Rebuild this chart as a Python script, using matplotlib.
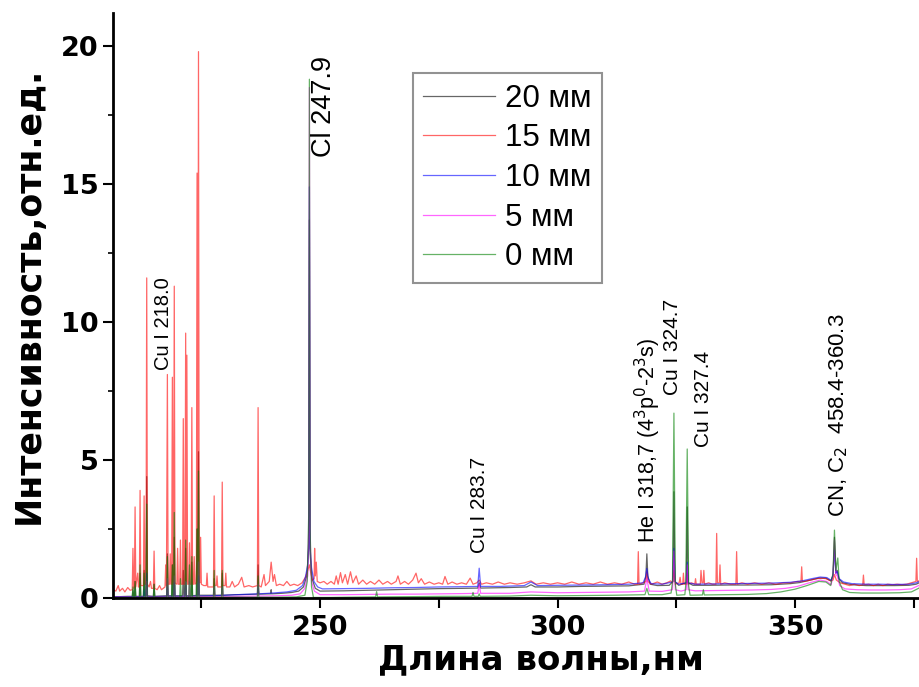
import matplotlib
matplotlib.use("Agg")
import matplotlib.pyplot as plt
from matplotlib.ticker import FixedLocator

# spectra: (wavelength nm, intensity)
red = [(206.5,0.30),(207.0,0.25),(207.5,0.45),(207.8,0.25),(208.4,0.35),(208.9,0.22),(209.5,0.38),(210.0,0.28),
       (210.45,0.3),(210.6,1.8),(210.75,0.35),(210.9,0.4),(211.05,3.3),(211.2,0.4),
       (211.6,0.9),(211.75,0.4),(211.95,0.4),(212.1,3.9),(212.25,0.45),(212.8,0.45),(212.95,3.7),(213.1,0.5),
       (213.35,0.5),(213.5,11.6),(213.65,0.5),(214.0,0.4),(214.3,0.6),(214.5,0.35),
       (214.9,0.35),(215.05,1.7),(215.2,0.35),(215.7,0.3),(216.2,0.45),(216.6,0.3),
       (217.35,0.4),(217.5,1.2),(217.65,0.45),(217.85,8.1),(218.0,0.5),(218.3,0.5),(218.45,1.6),(218.6,0.5),
       (218.75,0.5),(218.9,8.0),(219.05,0.5),(219.15,0.5),(219.3,11.3),(219.45,0.55),
       (219.85,0.5),(220.0,1.8),(220.15,0.5),(220.45,0.5),(220.6,2.1),(220.75,0.5),
       (221.05,0.5),(221.2,6.5),(221.35,0.5),(221.55,0.5),(221.7,9.6),(221.82,0.6),(221.95,8.8),(222.1,0.5),
       (222.35,0.5),(222.5,2.0),(222.65,0.5),(222.85,0.5),(223.0,6.9),(223.15,0.5),
       (223.35,0.5),(223.5,1.5),(223.65,0.5),(223.95,0.55),(224.1,15.4),(224.25,0.6),(224.4,19.8),(224.55,0.6),
       (224.7,0.55),(224.85,2.2),(225.0,0.5),(225.5,0.45),(226.05,0.45),(226.2,0.9),(226.35,0.4),
       (227.55,0.4),(227.7,3.7),(227.85,0.45),(228.15,0.45),(228.3,0.8),(228.45,0.4),
       (229.25,0.4),(229.4,4.2),(229.55,0.45),(230.0,0.45),(230.15,0.9),(230.3,0.4),
       (231.0,0.4),(231.5,0.6),(232.0,0.4),(232.8,0.5),(233.5,0.75),(234.0,0.4),(235.0,0.45),(235.8,0.4),
       (236.8,0.45),(236.95,6.9),(237.1,0.45),(237.6,0.4),(238.2,0.85),(238.5,0.45),
       (239.3,0.6),(239.7,1.3),(240.1,0.6),(240.4,0.85),(240.8,0.45),(241.5,0.5),(242.3,0.45),(243.0,0.6),
       (243.7,0.45),(244.5,0.5),(245.3,0.45),(246.2,0.55),(246.9,0.75),(247.4,1.0),(247.75,1.2),(248.1,0.85),
       (248.4,0.65),(248.75,0.7),(248.85,1.8),(249.0,0.8),(249.2,1.3),(249.4,0.6),
       (250.0,0.55),(250.8,0.6),(251.5,0.5),(252.3,0.6),(253.0,0.5),(253.4,0.8),(253.8,0.5),(254.3,0.92),
       (254.7,0.55),(255.3,0.85),(255.8,0.5),(256.4,0.95),(256.9,0.55),(257.6,0.8),(258.1,0.5),(259.0,0.65),
       (259.8,0.5),(260.6,0.6),(261.5,0.5),(262.4,0.65),(263.2,0.5),(264.2,0.6),(265.0,0.5),(266.0,0.6),
       (266.4,0.8),(266.9,0.5),(267.8,0.6),(268.6,0.5),(269.5,0.65),(270.2,0.9),(270.7,0.55),(271.3,0.7),
       (272.0,0.5),(273.0,0.58),(274.0,0.5),(275.0,0.55),(275.8,0.5),(276.3,0.78),(276.9,0.5),(277.8,0.58),
       (278.8,0.5),(279.8,0.55),(280.8,0.5),(281.6,0.72),(282.2,0.5),(283.0,0.55),(283.5,0.65),(284.0,0.5),
       (285.0,0.55),(286.3,0.5),(287.5,0.58),(288.8,0.5),(290.0,0.55),(291.5,0.5),(293.0,0.55),(294.4,0.62),
       (295.5,0.5),(297.0,0.55),(298.5,0.5),(300.0,0.55),(301.5,0.5),(303.0,0.58),(304.5,0.5),(306.0,0.55),
       (307.5,0.5),(309.0,0.58),(310.5,0.5),(312.0,0.55),(313.5,0.5),(315.0,0.58),(316.2,0.5),
       (316.85,0.5),(317.0,1.68),(317.15,0.5),(318.0,0.55),(318.6,0.6),(318.8,0.95),(319.0,0.6),(319.8,0.5),
       (321.0,0.58),(322.0,0.5),(323.0,0.55),(323.8,0.62),(324.2,0.55),(324.5,1.0),(324.8,0.5),(325.6,0.55),
       (325.8,0.75),(326.0,0.5),(326.35,0.5),(326.5,0.9),(326.65,0.5),(327.15,0.5),(327.3,0.9),(327.45,0.5),
       (328.2,0.55),(328.9,0.5),(329.05,0.7),(329.2,0.5),(330.05,0.5),(330.2,1.0),(330.4,0.55),(330.65,0.55),
       (330.8,1.0),(330.95,0.5),(331.8,0.55),(332.6,0.5),(333.35,0.5),(333.5,2.34),(333.65,0.55),(334.05,0.55),
       (334.2,1.2),(334.35,0.5),(335.2,0.55),(336.5,0.5),(337.55,0.5),(337.7,1.68),(337.85,0.5),(338.8,0.55),
       (340.0,0.5),(341.5,0.55),(343.0,0.5),(344.5,0.55),(346.0,0.5),(347.5,0.55),(349.0,0.55),(350.5,0.6),
       (351.25,0.6),(351.4,1.13),(351.55,0.6),(352.5,0.62),(353.5,0.66),(354.5,0.7),(355.5,0.72),(356.5,0.7),
       (357.5,0.62),(358.0,0.65),(358.3,0.85),(358.7,0.65),(359.5,0.55),(360.5,0.5),(361.5,0.45),(362.5,0.5),
       (363.5,0.45),(364.25,0.48),(364.4,0.83),(364.55,0.48),(365.5,0.5),(366.5,0.45),(367.5,0.5),(368.5,0.45),
       (369.5,0.5),(370.5,0.48),(371.5,0.5),(372.5,0.48),(373.5,0.5),(374.5,0.55),
       (375.45,0.6),(375.6,1.44),(375.75,0.6),(376.5,0.65),(377.5,0.7)]

black = [(206.5,0.05),(208.0,0.05),(209.5,0.06),(210.45,0.06),(210.6,0.3),(210.75,0.06),(210.9,0.06),(211.05,0.6),(211.2,0.06),
         (211.95,0.06),(212.1,0.9),(212.25,0.06),(212.8,0.06),(212.95,1.0),(213.1,0.06),(213.35,0.08),(213.5,4.4),(213.65,0.08),
         (214.9,0.06),(215.05,0.5),(215.2,0.06),(217.7,0.08),(217.85,1.6),(218.0,0.08),(218.75,0.08),(218.9,1.2),(219.05,0.08),
         (219.15,0.08),(219.3,2.2),(219.45,0.08),(221.05,0.08),(221.2,1.0),(221.35,0.08),(221.55,0.08),(221.7,1.8),(221.85,0.08),
         (222.85,0.08),(223.0,1.3),(223.15,0.08),(223.95,0.1),(224.1,2.5),(224.25,0.1),(224.4,5.3),(224.55,0.1),(226.0,0.1),
         (227.55,0.1),(227.7,0.7),(227.85,0.1),(229.25,0.1),(229.4,0.9),(229.55,0.1),(232.0,0.12),(235.0,0.13),(236.8,0.14),
         (236.95,1.2),(237.1,0.14),(239.6,0.15),(239.7,0.3),(239.8,0.15),(242.0,0.17),(244.0,0.2),(245.5,0.25),
         (246.5,0.4),(247.2,0.8),(247.6,1.8),(247.75,13.7),(247.9,1.6),(248.3,0.7),(249.0,0.35),(250.0,0.25),(255.0,0.26),
         (260.0,0.28),(265.0,0.3),(270.0,0.32),(275.0,0.34),(280.0,0.35),(283.2,0.36),(283.5,0.55),(283.8,0.36),
         (290.0,0.38),(293.5,0.4),(294.4,0.48),(295.3,0.4),(300.0,0.4),(305.0,0.42),(310.0,0.43),(315.0,0.44),(318.2,0.5),
         (318.6,0.8),(318.8,1.6),(319.0,0.8),(319.5,0.5),(321.0,0.45),(323.5,0.46),(324.3,0.6),(324.5,3.85),(324.7,0.6),
         (325.5,0.46),(327.1,0.55),(327.3,3.3),(327.5,0.55),(328.5,0.46),(332.0,0.46),(336.0,0.47),(340.0,0.47),(345.0,0.48),
         (349.0,0.52),(351.0,0.56),(353.0,0.64),(355.0,0.72),(356.5,0.72),(357.5,0.62),(358.0,0.8),(358.3,2.2),(358.6,0.9),
         (358.9,1.0),(359.2,0.7),(360.0,0.55),(362.0,0.48),(365.0,0.45),(368.0,0.45),(371.0,0.45),(374.0,0.46),(375.5,0.5),
         (376.5,0.58),(377.5,0.65)]

blue = [(206.5,0.04),(210.0,0.04),(212.8,0.05),(212.95,0.3),(213.1,0.05),(213.35,0.05),(213.5,0.9),(213.65,0.05),
        (217.7,0.06),(217.85,0.4),(218.0,0.06),(219.15,0.06),(219.3,0.55),(219.45,0.06),(221.55,0.06),(221.7,0.45),(221.85,0.06),
        (224.25,0.07),(224.4,0.8),(224.55,0.07),(227.0,0.08),(230.0,0.1),(234.0,0.13),(236.8,0.15),(236.95,0.35),(237.1,0.15),
        (240.0,0.18),(243.0,0.22),(245.0,0.28),(246.3,0.45),(246.9,0.75),(247.4,1.2),(247.6,2.0),(247.75,14.9),(247.9,1.8),
        (248.2,1.1),(248.7,0.6),(249.5,0.4),(250.5,0.33),(255.0,0.34),(260.0,0.35),(265.0,0.37),(270.0,0.38),(275.0,0.4),
        (280.0,0.41),(283.2,0.42),(283.5,1.08),(283.8,0.42),(288.0,0.42),(293.0,0.45),(294.4,0.58),(295.8,0.45),(300.0,0.46),
        (305.0,0.47),(310.0,0.48),(315.0,0.5),(318.0,0.55),(318.5,0.75),(318.8,1.07),(319.1,0.7),(319.7,0.52),(322.0,0.5),
        (324.2,0.58),(324.5,1.8),(324.8,0.58),(325.5,0.5),(327.1,0.55),(327.3,1.3),(327.5,0.55),(329.0,0.5),(333.0,0.51),
        (337.0,0.52),(341.0,0.53),(345.0,0.54),(349.0,0.57),(351.5,0.62),(353.5,0.7),(355.3,0.76),(356.7,0.74),(357.6,0.64),
        (358.0,0.85),(358.3,1.74),(358.6,0.9),(358.9,0.95),(359.3,0.7),(360.2,0.58),(362.0,0.52),(365.0,0.5),(368.0,0.5),
        (371.0,0.49),(374.0,0.5),(375.5,0.55),(376.5,0.62),(377.5,0.68)]

pink = [(206.5,0.03),(210.0,0.03),(213.35,0.04),(213.5,0.6),(213.65,0.04),(217.7,0.04),(217.85,0.7),(218.0,0.04),
        (219.15,0.04),(219.3,0.8),(219.45,0.04),(221.55,0.05),(221.7,0.6),(221.85,0.05),(222.35,0.05),(222.5,0.6),(222.65,0.05),
        (224.25,0.05),(224.4,1.3),(224.55,0.05),(227.55,0.05),(227.7,0.4),(227.85,0.05),(229.25,0.05),(229.4,0.4),(229.55,0.05),
        (233.0,0.06),(236.8,0.07),(236.95,0.5),(237.1,0.07),(241.0,0.08),(244.0,0.1),(245.8,0.15),(246.8,0.35),(247.4,0.8),
        (247.6,2.5),(247.75,18.5),(247.9,2.2),(248.2,0.6),(248.8,0.25),(250.0,0.12),(255.0,0.12),(260.0,0.13),(265.0,0.14),
        (270.0,0.14),(275.0,0.15),(280.0,0.16),(283.2,0.17),(283.5,0.5),(283.8,0.17),(290.0,0.17),(294.4,0.22),(300.0,0.19),
        (305.0,0.2),(310.0,0.21),(315.0,0.22),(318.3,0.25),(318.8,0.7),(319.3,0.25),(322.0,0.24),(324.2,0.3),(324.5,1.7),
        (324.8,0.3),(326.0,0.25),(327.1,0.3),(327.3,1.2),(327.5,0.3),(329.0,0.26),(333.0,0.27),(337.0,0.28),(341.0,0.29),
        (345.0,0.31),(348.0,0.35),(350.5,0.42),(353.0,0.55),(355.3,0.65),(356.7,0.6),(357.6,0.48),(358.0,0.8),(358.3,2.1),
        (358.6,0.85),(358.9,0.8),(359.4,0.45),(360.5,0.33),(363.0,0.3),(366.0,0.29),(369.0,0.29),(372.0,0.3),(374.5,0.33),
        (376.0,0.45),(377.5,0.55)]

green = [(206.5,0.02),(209.0,0.02),(210.45,0.02),(210.6,0.4),(210.75,0.02),(210.9,0.02),(211.05,0.6),(211.2,0.02),
         (211.95,0.02),(212.1,1.2),(212.25,0.02),(212.8,0.02),(212.95,0.9),(213.1,0.02),(213.35,0.03),(213.5,3.4),(213.65,0.03),
         (214.9,0.03),(215.05,0.5),(215.2,0.03),(217.7,0.03),(217.85,1.5),(218.0,0.03),(218.75,0.03),(218.9,1.2),(219.05,0.03),
         (219.15,0.03),(219.3,3.1),(219.45,0.03),(220.45,0.03),(220.6,0.7),(220.75,0.03),(221.55,0.03),(221.7,2.1),(221.85,0.03),
         (222.35,0.03),(222.5,1.2),(222.65,0.03),(222.85,0.03),(223.0,1.5),(223.15,0.03),(223.95,0.03),(224.1,2.5),(224.25,0.03),
         (224.4,4.6),(224.55,0.03),(227.55,0.03),(227.7,1.0),(227.85,0.03),(229.25,0.03),(229.4,1.0),(229.55,0.03),(236.8,0.03),
         (236.95,0.8),(237.1,0.03),(241.0,0.03),(245.0,0.04),(246.8,0.1),(247.3,0.6),(247.6,3.0),(247.75,18.8),(247.9,2.5),
         (248.2,0.4),(248.6,0.02),(252.0,0.02),(256.0,0.03),(261.7,0.04),(261.9,0.23),(262.1,0.04),(270.0,0.05),(276.0,0.06),
         (282.0,0.06),(282.2,0.2),(282.4,0.06),(283.3,0.06),(283.5,0.15),(283.7,0.06),(290.0,0.07),(294.4,0.1),(300.0,0.08),
         (306.0,0.09),(312.0,0.1),(318.4,0.12),(318.8,0.35),(319.2,0.12),(322.0,0.12),(323.9,0.18),(324.2,0.6),(324.5,6.7),
         (324.8,0.5),(325.1,0.1),(326.8,0.12),(327.0,0.5),(327.3,5.4),(327.6,0.45),(327.9,0.1),(330.5,0.11),(330.7,0.3),
         (330.9,0.11),(335.0,0.12),(340.0,0.13),(344.0,0.16),(347.0,0.22),(350.0,0.32),(352.5,0.45),(355.0,0.6),(356.5,0.58),
         (357.5,0.45),(358.0,0.9),(358.3,2.46),(358.6,1.0),(359.0,1.45),(359.3,0.6),(360.0,0.3),(361.5,0.2),(364.0,0.18),
         (368.0,0.18),(372.0,0.19),(374.5,0.22),(376.0,0.35),(377.5,0.5)]

series = [black, red, blue, pink, green]
labels = ["20 мм", "15 мм", "10 мм", "5 мм", "0 мм"]
colors = ["k", "r", "b", "magenta", "green"]

# line annotations: text, wavelength, intensity at text foot, size
ann_text = ["Cu I 218.0", "Cl 247.9", "Cu I 283.7", "He I 318,7 (4$^3$p$^0$-2$^3$s)",
            "Cu I 324.7", "Cu I 327.4", "CN, C$_2$  458.4-360.3"]
ann_x = [217.0, 250.8, 283.5, 319.0, 324.3, 330.8, 359.2]
ann_y = [8.26, 15.98, 1.63, 1.99, 7.36, 5.47, 2.93]
ann_size = [14.5, 19.5, 15, 15.5, 15, 15, 16]

xtick_pos = [225, 250, 275, 300, 325, 350, 375]
xtick_lab = ["", "250", "", "300", "", "350", ""]
ytick_pos = [0, 5, 10, 15, 20]
ytick_minor = [2.5, 7.5, 12.5, 17.5]

fig = plt.figure(figsize=(9.19, 6.87), dpi=100)
ax = fig.add_axes([113/919, 89/687, 806/919, 585/687])

for s, lab, c in zip(series, labels, colors):
    x, y = zip(*s)
    ax.plot(x, y, color=c, lw=0.9, alpha=0.6, label=lab)

for t, x, y, fs in zip(ann_text, ann_x, ann_y, ann_size):
    ax.text(x, y, t, rotation=90, ha="center", va="bottom", fontsize=fs,
            family="Liberation Sans")

ax.set_xlim(206.4, 376.1)
ax.set_ylim(0, 21.2)
ax.spines["top"].set_visible(False)
ax.spines["right"].set_visible(False)
ax.spines["left"].set_linewidth(2)
ax.spines["bottom"].set_linewidth(2)
ax.set_xticks(xtick_pos)
ax.set_xticklabels(xtick_lab)
ax.set_yticks(ytick_pos)
ax.yaxis.set_minor_locator(FixedLocator(ytick_minor))
ax.tick_params(axis="both", which="major", length=7, width=1.5, direction="out")
ax.tick_params(axis="x", which="major", pad=5)
ax.tick_params(axis="y", which="minor", length=3.5, width=1.2)
for lbl in ax.get_xticklabels() + ax.get_yticklabels():
    lbl.set_fontweight("bold")
    lbl.set_fontsize(19.5)
    lbl.set_family("DejaVu Sans")

ax.set_xlabel("Длина волны,нм", fontsize=24.5, fontweight="bold", family="DejaVu Sans")
ax.set_ylabel("Интенсивность,отн.ед.", fontsize=25, fontweight="bold", family="DejaVu Sans")
ax.xaxis.set_label_coords(0.531, -0.078)
ax.yaxis.set_label_coords(-0.084, 0.518)

leg = ax.legend(loc="upper left", bbox_to_anchor=(0.372, 0.897), borderaxespad=0,
                prop={"family": "Liberation Sans", "size": 22.5}, fancybox=False,
                handlelength=2.3, handletextpad=0.32, labelspacing=0.31, borderpad=0.33)
leg.get_frame().set_edgecolor("#777777")
leg.get_frame().set_linewidth(1.5)

plt.savefig("out.png", dpi=100)
